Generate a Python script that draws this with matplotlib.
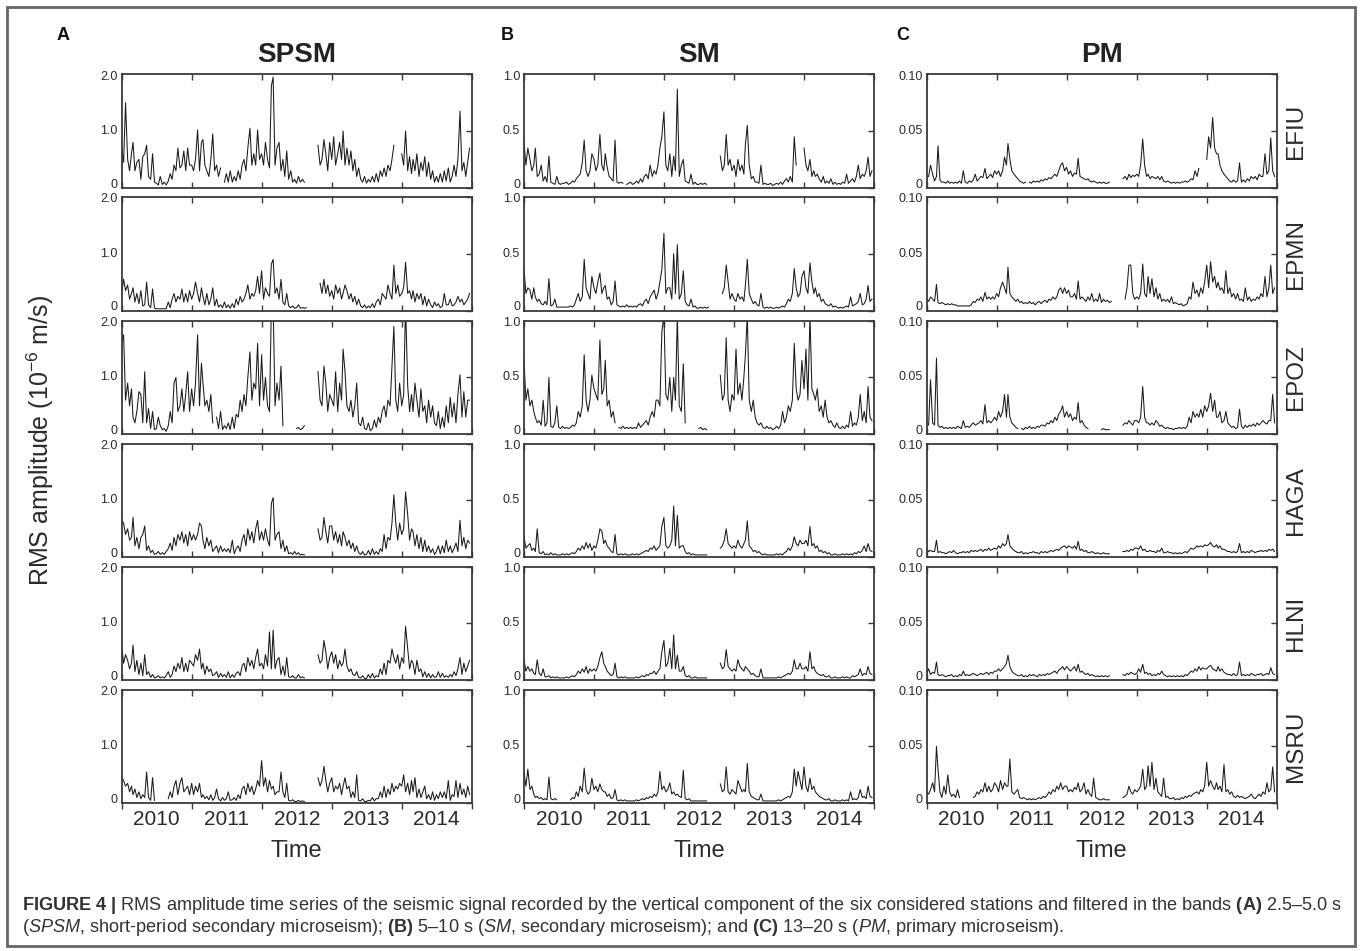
import numpy as np
import pandas as pd
import matplotlib
matplotlib.use("Agg")
import matplotlib.pyplot as plt
import matplotlib.dates as mdates
import matplotlib.transforms as mtransforms
from matplotlib.patches import Rectangle

nan = float("nan")

# ---------------- data (3 samples per month: days 1, 11, 21) ----------------
years = [2010, 2011, 2012, 2013, 2014]
sample_days = [1, 11, 21]
dates = pd.to_datetime([f"{y}-{m:02d}-{d:02d}" for y in years for m in range(1, 13) for d in sample_days])

stations = ["EFIU", "EPMN", "EPOZ", "HAGA", "HLNI", "MSRU"]
bands = ["SPSM", "SM", "PM"]
panel_letters = ["A", "B", "C"]
band_ymax = [2.0, 1.0, 0.10]
band_yticks = [[0, 1.0, 2.0], [0, 0.5, 1.0], [0, 0.05, 0.10]]
band_yticklabels = [["0", "1.0", "2.0"], ["0", "0.5", "1.0"], ["0", "0.05", "0.10"]]
year_labels = ["2010", "2011", "2012", "2013", "2014"]

# ---- SPSM (2.5-5 s) ----
spsm_efiu = [
 .7,.45,1.5, .5,.3,.6, .8,.3,.45, .5,.15,.55, .6,.75,.2, .15,.6,.1, .08,.05,.2, .06,.1,.05, .12,.25,.15, .4,.3,.7, .35,.4,.65, .3,.7,.4,
 .4,.3,.5, 1.02,.3,.8, .85,.4,.3, .2,.5,.95, .3,.4,.2, .35,nan,.1, .25,.1,.3, .1,.2,.12, .3,.15,.4, .5,.3,.7, 1.05,.4,.6, .4,1.02,.5,
 .6,.4,.8, .5,.35,1.8, 1.95,.4,.7, .8,.3,.5, .2,.65,.15, .3,.1,.15, .08,.2,.1, .15,.1,nan, nan,nan,nan, nan,nan,.75, .4,.5,.85, .6,.3,.8,
 .5,.9,.4, .6,.8,.5, 1.0,.4,.7, .4,.65,.3, .5,.2,.35, .15,.1,.2, .08,.15,.1, .2,.1,.25, .1,.3,.2, .35,.2,.4, .3,.5,.75, nan,nan,nan,
 .6,.4,1.0, .3,.55,.25, .5,.3,.6, .2,.45,.3, .55,.2,.45, .15,.3,.1, .2,.1,.25, .1,.3,.12, .35,.1,.2, .4,.2,.5, 1.35,.3,.45, .2,.45,.7,
]
spsm_epmn = [
 .3,.55,.35, .45,.2,.3, .4,.15,.3, .12,.35,.08, .1,.5,.1, .05,.38,.04, .03,.03,.03, .03,.03,.03, .15,.05,.2, .3,.15,.25, .2,.38,.15, .3,.15,.35,
 .2,.3,.5, .3,.15,.4, .25,.1,.3, .1,.2,.4, .08,.2,.06, .1,.05,.15, .05,.1,.04, .12,.05,.2, .1,.25,.15, .2,.3,.45, .2,.3,.25, .35,.6,.3,
 .7,.2,.4, .3,.25,.82, .9,.3,.4, .2,.55,.15, .1,.3,.08, .05,.08,.04, .05,.1,.04, .05,.04,.05, nan,nan,nan, nan,nan,nan, .48,.3,.55, .3,.45,.25,
 .35,.2,.45, .3,.4,.2, .3,.45,.35, .2,.3,.15, .25,.1,.2, .08,.05,.1, .04,.08,.05, .12,.05,.15, .2,.1,.3, .25,.2,.45, .3,.2,.8, .3,.45,.25,
 .3,.4,.85, .3,.35,.2, .35,.15,.3, .2,.3,.1, .25,.08,.2, .1,.05,.15, .08,.12,.05, .08,.3,.1, .1,.2,.08, .1,.15,.25, .15,.2,.1, .15,.2,.3,
]
spsm_epoz = [
 1.6,1.75,.6, .9,.5,.8, .3,.2,.4, .75,.7,.2, 1.1,.2,.45, .1,.4,.08, .1,.3,.15, .08,.1,.05, .15,.4,.2, .9,1.0,.4, .5,.8,.4, .7,1.1,.4,
 .8,.5,.9, 1.75,.5,1.25, .9,.5,.6, .4,.7,.2, nan,.3,.1, .4,.08,.15, .1,.2,.08, .3,.1,.35, .3,.6,.4, .7,.5,1.0, 1.45,.6,.9, .8,1.6,.5,
 1.4,.6,1.0, .5,.4,2.3, 2.3,.5,.9, .6,1.2,.15, nan,nan,nan, nan,nan,nan, .1,.12,.08, .1,.15,nan, nan,nan,nan, nan,nan,1.1, .6,.5,1.2, .9,.4,.7,
 .6,.5,1.1, .4,.9,.6, 1.5,1.1,.5, .4,.6,.3, .5,.9,.2, .15,.3,.1, .08,.2,.06, .1,.25,.12, .3,.2,.4, .5,.3,.6, .5,1.2,1.9, .6,.4,.9,
 .5,.7,2.3, .85,.4,.7, .4,.9,.6, .3,.8,.4, .5,.2,.6, .3,.5,.2, .15,.4,.1, .3,.12,.5, .2,.65,.3, .55,.2,.7, 1.05,.3,.75, .3,.6,.6,
]
spsm_haga = [
 .65,.6,.4, .5,.3,.35, .7,.2,.35, .15,.35,.4, .55,.12,.2, .08,.12,.05, .06,.1,.05, .08,.05,.1, .15,.25,.12, .35,.2,.4, .3,.45,.25, .4,.2,.45,
 .3,.4,.3, .4,.6,.55, .3,.15,.35, .2,.3,.1, .15,.2,.08, .2,.1,.15, .1,.15,.08, .3,.06,.15, .2,.1,.3, .4,.2,.5, .3,.45,.25, .5,.65,.3,
 .45,.3,.5, .3,.2,.95, 1.05,.3,.4, .45,.15,.3, .1,.2,.06, .08,.05,.1, .05,.08,.04, .05,.04,nan, nan,nan,nan, nan,nan,.5, .3,.35,.7, .45,.25,.55,
 .55,.3,.45, .25,.4,.2, .45,.35,.2, .3,.15,.25, .1,.2,.08, .05,.1,.04, .05,.12,.04, .15,.05,.1, .05,.15,.1, .4,.15,.35, .3,.6,1.1, .6,.3,.6,
 .4,.5,1.15, .75,.3,.5, .45,.2,.4, .15,.35,.1, .3,.1,.2, .08,.15,.05, .1,.2,.06, .2,.08,.3, .1,.2,.08, .15,.25,.1, .65,.2,.35, .15,.3,.25,
]
spsm_hlni = [
 .6,.3,.45, .35,.2,.3, .62,.15,.35, .1,.3,.08, .45,.1,.15, .05,.1,.04, .05,.08,.04, .06,.04,.08, .15,.05,.1, .25,.15,.3, .2,.4,.15, .3,.15,.35,
 .3,.25,.45, .35,.55,.2, .3,.1,.25, .15,.2,.08, .1,.15,.05, .12,.06,.1, .05,.15,.04, .1,.05,.12, .15,.08,.25, .3,.15,.4, .25,.35,.2, .4,.55,.25,
 .3,.2,.45, .25,.85,.2, .88,.2,.35, .4,.1,.25, .08,.4,.06, .05,.08,.04, .04,.1,.04, .06,.04,nan, nan,nan,nan, nan,nan,.45, .3,.35,.7, .5,.2,.4,
 .5,.3,.45, .2,.35,.25, .3,.55,.25, .15,.2,.1, .08,.15,.05, .04,.08,.03, .03,.1,.04, .12,.04,.08, .06,.2,.1, .3,.1,.35, .3,.55,.4, .3,.45,.2,
 .4,.3,.95, .55,.2,.35, .3,.1,.35, .15,.2,.06, .15,.05,.12, .04,.1,.05, .06,.15,.05, .12,.05,.08, .05,.1,.06, .15,.08,.2, .4,.1,.3, .15,.25,.35,
]
spsm_msru = [
 .45,.4,.3, .35,.2,.3, .15,.25,.1, .2,.08,.15, .1,.55,.1, .05,.45,.05, nan,nan,nan, nan,nan,nan, .08,.2,.1, .3,.4,.15, .35,.45,.2, .25,.3,.15,
 .35,.15,.3, .2,.35,.1, .15,.08,.12, .06,.15,.05, .1,.25,.08, .04,.1,.05, .08,.2,.05, .06,.1,.05, .15,.08,.25, .3,.15,.35, .2,.3,.15, .25,.4,.3,
 .75,.3,.45, .2,.4,.25, .3,.15,.2, .2,.55,.2, .1,.35,.05, .04,.06,.03, .03,.05,.03, .04,.03,nan, nan,nan,nan, nan,nan,.45, .3,.4,.65, .4,.2,.35,
 .45,.2,.3, .25,.35,.15, .3,.45,.25, .3,.1,.2, .1,.5,.05, .04,.08,.03, .03,.05,.04, .1,.04,.08, .08,.2,.1, .3,.1,.25, .15,.35,.2, .3,.25,.35,
 .3,.5,.2, .35,.15,.4, .2,.45,.1, .25,.1,.2, .3,.08,.15, .06,.2,.05, .15,.08,.2, .1,.2,.08, .4,.05,.15, .12,.4,.1, .35,.15,.25, .1,.3,.15,
]

# ---- SM (5-10 s) ----
sm_efiu = [
 .4,.2,.35, .25,.15,.2, .35,.1,.12, .2,.06,.1, .05,.28,.05, .04,.03,.1, .04,.03,.04, .04,.05,.03, .04,.06,.05, .08,.1,.12, .22,.42,.15, .1,.15,.3,
 .25,.15,.2, .47,.2,.15, .3,.18,.1, .08,.06,.42, .05,.04,.05, .04,nan,.03, .04,.05,.03, .04,.06,.04, .08,.05,.1, .12,.08,.2, .1,.15,.12, .2,.35,.45,
 .67,.2,.15, .3,.1,.28, .15,.87,.1, .2,.25,.06, .05,.04,.12, .03,.05,.03, .03,.04,.03, .04,.03,nan, nan,nan,nan, nan,nan,.28, .15,.2,.47, .2,.25,.15,
 .2,.1,.25, .15,.2,.12, .38,.55,.2, .08,.1,.05, .05,.04,.2, .03,.04,.03, .03,.04,.02, .03,.04,.03, .05,.03,.06, .08,.05,.1, .05,.45,.2, nan,nan,nan,
 .35,.2,.15, .25,.1,.15, .1,.12,.08, .05,.1,.04, .06,.04,.08, .03,.05,.03, .04,.03,.05, .04,.12,.04, .06,.08,.05, .1,.2,.08, .12,.1,.15, .27,.1,.15,
]
sm_epmn = [
 .37,.15,.2, .18,.1,.2, .12,.08,.1, .06,.05,.08, .05,.28,.04, .05,.1,.03, .03,.03,.03, .03,.03,.03, .04,.03,.05, .1,.15,.08, .12,.45,.2, .15,.1,.3,
 .2,.15,.25, .33,.15,.2, .22,.1,.12, .05,.08,.26, .05,.04,.03, .04,.03,.05, .03,.04,.03, .04,.03,.05, .06,.04,.08, .1,.06,.12, .15,.18,.1, .15,.25,.36,
 .68,.15,.2, .2,.1,.5, .15,.58,.1, .15,.35,.08, .05,.04,.1, .03,.04,.02, .02,.03,.02, .03,.02,.03, nan,nan,nan, nan,nan,nan, .15,.2,.4, .25,.1,.15,
 .1,.08,.15, .1,.12,.08, .22,.45,.15, .1,.06,.08, .05,.04,.15, .03,.02,.03, .02,.03,.02, .02,.03,.02, .03,.04,.03, .06,.1,.08, .15,.37,.2, .12,.15,.3,
 .35,.2,.15, .42,.25,.15, .2,.12,.15, .08,.1,.06, .05,.04,.06, .03,.04,.03, .02,.03,.02, .03,.04,.03, .12,.04,.05, .06,.08,.15, .05,.06,.1, .22,.08,.1,
]
sm_epoz = [
 .65,.3,.4, .25,.3,.2, .15,.1,.12, .08,.3,.07, .1,.5,.07, .06,.1,.25, .06,.05,.07, .05,.06,.05, .06,.08,.07, .1,.2,.15, .25,.7,.3, .2,.3,.52,
 .4,.35,.3, .83,.35,.4, .65,.25,.3, .15,.2,.1, nan,.06,.05, .07,.05,.06, .05,.06,.05, .06,.05,.1, .06,.08,.1, .12,.08,.15, .2,.15,.3, .3,.25,.9,
 1.05,.35,.3, .5,.2,.5, .3,1.05,.25, .2,.62,.1, nan,nan,nan, nan,nan,nan, .05,.06,.04, .05,.04,nan, nan,nan,nan, nan,nan,.52, .3,.35,.85, .3,.2,.35,
 .3,.75,.35, .45,.3,.5, .7,1.05,.3, .2,.3,.15, .1,.08,.1, .06,.05,.07, .05,.06,.04, .05,.07,.05, .08,.2,.1, .15,.25,.2, .3,.8,.4, .3,.35,.65,
 .4,.75,.3, 1.05,.4,.35, .3,.4,.2, .25,.15,.3, .15,.1,.12, .08,.06,.1, .06,.05,.07, .05,.08,.06, .2,.07,.1, .08,.15,.35, .12,.2,.1, .42,.15,.12,
]
sm_haga = [
 .18,.08,.1, .12,.06,.08, .05,.25,.04, .03,.05,.02, .03,.02,.04, .02,.03,.02, .02,.02,.03, .02,.03,.02, .03,.04,.03, .05,.08,.06, .1,.07,.13, .08,.12,.06,
 .1,.08,.15, .25,.23,.12, .15,.1,.08, .05,.04,.2, .03,.02,.03, .02,.03,.02, .02,.02,.03, .02,.03,.02, .03,.04,.05, .06,.05,.08, .07,.1,.06, .08,.1,.27,
 .35,.1,.08, .1,.15,.45, .1,.37,.08, .1,.1,.05, .03,.04,.02, .03,.02,.02, .02,.02,.02, .02,.02,nan, nan,nan,nan, nan,nan,.08, .1,.15,.25, .12,.1,.08,
 .1,.08,.15, .1,.08,.12, .15,.32,.1, .08,.05,.06, .04,.05,.03, .02,.03,.02, .02,.02,.02, .02,.03,.02, .03,.02,.04, .05,.08,.06, .1,.18,.12, .1,.15,.12,
 .12,.15,.1, .27,.1,.12, .08,.1,.05, .06,.04,.05, .03,.04,.02, .02,.03,.02, .02,.02,.03, .02,.03,.02, .03,.02,.04, .03,.05,.04, .06,.1,.05, .12,.06,.05,
]
sm_hlni = [
 .18,.08,.12, .08,.1,.06, .05,.18,.06, .04,.1,.03, .03,.04,.02, .03,.02,.03, .02,.02,.02, .02,.03,.02, .03,.04,.03, .05,.08,.06, .1,.07,.12, .06,.1,.08,
 .1,.08,.12, .2,.25,.15, .12,.08,.06, .04,.05,.15, .03,.02,.03, .02,.03,.02, .02,.02,.02, .02,.03,.02, .03,.04,.03, .05,.04,.06, .06,.08,.05, .08,.1,.25,
 .35,.12,.15, .28,.1,.4, .1,.22,.08, .08,.12,.04, .03,.04,.02, .02,.03,.02, .02,.02,.02, .02,.02,nan, nan,nan,nan, nan,nan,.15, .1,.12,.27, .12,.1,.08,
 .1,.08,.18, .12,.1,.08, .12,.1,.08, .05,.06,.04, .03,.03,.1, .02,.02,.02, .02,.02,.02, .02,.02,.03, .02,.03,.04, .05,.06,.05, .08,.18,.1, .1,.15,.1,
 .1,.12,.08, .25,.1,.12, .08,.06,.05, .04,.05,.03, .03,.04,.02, .02,.03,.02, .02,.02,.03, .02,.03,.02, .02,.04,.03, .04,.05,.1, .04,.06,.05, .12,.06,.05,
]
sm_msru = [
 .27,.15,.3, .12,.15,.08, .05,.06,.04, .05,.03,.04, .03,.23,.04, .03,.04,.03, nan,nan,nan, nan,nan,nan, .03,.05,.04, .1,.06,.15, .1,.31,.12, .08,.1,.22,
 .12,.15,.1, .17,.12,.1, .1,.06,.08, .04,.05,.12, .03,.02,.03, .02,.03,.02, .02,.02,.02, .02,.03,.02, .03,.04,.03, .05,.04,.06, .05,.08,.06, .1,.28,.12,
 .15,.1,.12, .18,.08,.1, .07,.08,.06, .05,.29,.04, .03,.04,.02, .02,.02,.02, .02,.02,.02, .02,.02,nan, nan,nan,nan, nan,nan,.17, .1,.12,.32, .1,.08,.12,
 .1,.08,.2, .15,.1,.12, .1,.35,.1, .06,.05,.04, .03,.03,.08, .02,.02,.02, .02,.02,.02, .02,.02,.03, .02,.03,.04, .05,.06,.05, .1,.3,.15, .28,.2,.12,
 .32,.15,.1, .22,.12,.15, .1,.08,.06, .05,.04,.03, .03,.04,.02, .02,.03,.02, .02,.02,.03, .02,.03,.02, .1,.03,.04, .03,.05,.12, .05,.06,.04, .15,.06,.05,
]

# ---- PM (13-20 s) ----
pm_efiu = [
 .01,.01,.02, .012,.006,.01, .037,.007,.005, .005,.004,.006, .004,.005,.004, .005,.004,.006, .004,.015,.005, .004,.006,.005, .007,.012,.006, .008,.01,.009, .017,.008,.01, .012,.009,.015,
 .012,.015,.01, .015,.027,.02, .039,.025,.015, .012,.01,.008, .006,.005,.004, .005,nan,.005, .004,.006,.005, .006,.005,.007, .006,.008,.007, .009,.008,.01, .012,.01,.015, .02,.022,.015,
 .018,.012,.015, .01,.013,.012, .026,.01,.009, .008,.007,.008, .006,.005,.006, .005,.004,.005, .004,.005,.004, .004,.005,nan, nan,nan,nan, nan,nan,.008, .01,.007,.012, .009,.011,.01,
 .012,.01,.02, .043,.02,.01, .012,.008,.01, .009,.008,.01, .007,.01,.006, .005,.006,.005, .004,.005,.004, .005,.004,.005, .005,.006,.005, .006,.008,.007, .015,.01,.017, nan,nan,nan,
 .025,.045,.035, .062,.035,.03, .03,.02,.015, .012,.01,.008, .006,.005,.007, .005,.006,.022, .005,.007,.005, .008,.006,.01, .008,.01,.007, .012,.01,.01, .03,.012,.015, .044,.015,.01,
]
pm_epmn = [
 .01,.008,.012, .01,.008,.023, .007,.006,.007, .006,.005,.006, .005,.006,.005, .005,.004,.004, .004,.004,.004, .004,.004,.005, .008,.007,.01, .009,.012,.008, .016,.01,.012, .01,.012,.01,
 .015,.012,.02, .025,.02,.015, .038,.015,.012, .01,.008,.01, .007,.008,.006, .007,.006,.008, .006,.007,.005, .007,.008,.006, .008,.009,.007, .01,.009,.012, .01,.012,.018, .02,.015,.02,
 .015,.018,.012, .012,.015,.01, .026,.01,.012, .01,.008,.012, .009,.015,.008, .01,.008,.015, .007,.01,.008, .009,.007,.008, nan,nan,nan, nan,nan,nan, .01,.02,.04, .04,.015,.01,
 .012,.01,.015, .041,.015,.012, .03,.015,.028, .012,.02,.01, .015,.008,.01, .008,.01,.007, .012,.006,.007, .006,.005,.006, .004,.005,.006, .012,.01,.025, .015,.018,.012, .02,.015,.025,
 .04,.02,.043, .025,.03,.02, .025,.018,.02, .015,.035,.015, .02,.012,.015, .01,.015,.009, .01,.008,.02, .009,.012,.008, .01,.009,.012, .01,.015,.012, .03,.012,.02, .04,.015,.02,
]
pm_epoz = [
 .01,.008,.048, .01,.008,.067, .008,.006,.007, .005,.006,.005, .006,.005,.006, .005,.007,.006, .005,.012,.006, .007,.006,.008, .01,.008,.009, .01,.012,.009, .026,.01,.012, .01,.012,.015,
 .012,.02,.015, .02,.035,.015, .035,.015,.01, .008,.006,.005, nan,.005,.004, .006,.005,.007, .005,.006,.005, .007,.006,.008, .008,.007,.01, .009,.012,.01, .015,.012,.018, .02,.025,.015,
 .02,.015,.018, .012,.015,.013, .028,.01,.012, .008,.006,.005, nan,nan,nan, nan,nan,nan, .004,.005,.004, .004,.004,nan, nan,nan,nan, nan,nan,.008, .01,.009,.012, .01,.008,.012,
 .012,.01,.015, .042,.015,.01, .01,.008,.01, .008,.012,.01, .007,.008,.006, .005,.006,.005, .005,.004,.005, .005,.006,.005, .006,.005,.007, .015,.01,.02, .015,.018,.015, .022,.015,.025,
 .02,.025,.036, .02,.03,.015, .015,.02,.01, .012,.02,.01, .008,.006,.007, .005,.006,.022, .007,.005,.008, .006,.008,.007, .009,.007,.01, .008,.01,.012, .01,.009,.012, .012,.035,.01,
]
pm_haga = [
 .008,.005,.006, .005,.005,.015, .004,.005,.004, .004,.003,.004, .005,.004,.006, .004,.003,.004, .004,.005,.004, .005,.004,.006, .005,.006,.005, .006,.007,.005, .007,.006,.008, .006,.007,.008,
 .007,.01,.008, .012,.01,.012, .02,.01,.008, .006,.005,.004, .004,.005,.003, .004,.003,.004, .004,.005,.004, .004,.003,.005, .004,.005,.004, .005,.006,.005, .006,.007,.006, .008,.009,.01,
 .008,.01,.009, .008,.01,.007, .014,.006,.007, .005,.006,.004, .004,.005,.004, .003,.004,.003, .003,.004,.003, .003,.003,nan, nan,nan,nan, nan,nan,.005, .005,.006,.005, .007,.006,.008,
 .008,.007,.01, .006,.007,.005, .005,.006,.005, .005,.004,.006, .005,.008,.004, .004,.005,.004, .004,.003,.004, .003,.004,.003, .004,.005,.004, .006,.008,.007, .008,.01,.009, .01,.009,.011,
 .01,.011,.013, .01,.009,.011, .008,.01,.007, .007,.006,.005, .005,.004,.005, .004,.005,.012, .004,.005,.004, .005,.004,.006, .005,.004,.005, .005,.006,.005, .006,.005,.007, .006,.007,.005,
]
pm_hlni = [
 .006,.01,.005, .007,.006,.016, .005,.004,.005, .004,.003,.004, .004,.005,.003, .004,.003,.005, .004,.008,.004, .005,.004,.005, .006,.005,.004, .005,.006,.005, .006,.007,.005, .007,.006,.008,
 .008,.01,.008, .01,.012,.015, .022,.012,.008, .006,.005,.004, .004,.005,.003, .004,.003,.005, .004,.005,.004, .003,.005,.004, .005,.004,.006, .005,.006,.007, .008,.006,.009, .01,.012,.009,
 .012,.01,.008, .01,.012,.008, .014,.007,.008, .006,.005,.006, .004,.005,.004, .003,.004,.003, .004,.003,.004, .003,.004,nan, nan,nan,nan, nan,nan,.005, .004,.006,.005, .007,.006,.005,
 .006,.01,.007, .014,.006,.007, .005,.006,.004, .005,.004,.006, .005,.008,.005, .004,.003,.004, .003,.004,.003, .004,.003,.004, .003,.005,.004, .006,.008,.007, .01,.008,.012, .009,.011,.01,
 .01,.012,.013, .01,.009,.008, .012,.008,.01, .007,.006,.005, .005,.004,.006, .004,.005,.016, .004,.005,.004, .005,.004,.006, .005,.004,.005, .005,.006,.004, .005,.006,.005, .011,.006,.005,
]
pm_msru = [
 .01,.008,.012, .018,.01,.05, .03,.01,.005, .015,.008,.025, .01,.006,.008, .005,.012,.005, nan,nan,nan, nan,nan,nan, .005,.006,.01, .008,.012,.01, .018,.01,.015, .01,.012,.018,
 .015,.01,.02, .012,.018,.015, .015,.039,.01, .008,.01,.012, .005,.004,.005, .004,.003,.004, .003,.004,.003, .004,.005,.004, .006,.005,.007, .01,.008,.012, .01,.015,.012, .018,.012,.015,
 .015,.01,.012, .01,.014,.012, .018,.01,.012, .018,.008,.012, .008,.006,.022, .005,.004,.003, .003,.004,.003, .003,.003,nan, nan,nan,nan, nan,nan,.005, .006,.008,.015, .01,.008,.012,
 .01,.012,.015, .03,.012,.015, .033,.015,.036, .012,.022,.01, .008,.006,.022, .005,.006,.004, .004,.005,.003, .004,.003,.005, .004,.006,.005, .007,.006,.008, .009,.01,.008, .012,.01,.015,
 .036,.015,.02, .015,.012,.018, .012,.015,.01, .034,.01,.012, .008,.01,.006, .005,.007,.005, .006,.005,.004, .005,.006,.008, .005,.004,.006, .008,.006,.01, .008,.018,.01, .012,.032,.01,
]

series = [
    [spsm_efiu, sm_efiu, pm_efiu],
    [spsm_epmn, sm_epmn, pm_epmn],
    [spsm_epoz, sm_epoz, pm_epoz],
    [spsm_haga, sm_haga, pm_haga],
    [spsm_hlni, sm_hlni, pm_hlni],
    [spsm_msru, sm_msru, pm_msru],
]
for r, row in enumerate(series):
    for c, s in enumerate(row):
        if len(s) != len(dates):
            raise ValueError(f"{stations[r]} {bands[c]} has {len(s)} values")

# ---------------- style ----------------
plt.rcParams["font.family"] = ["Liberation Sans", "DejaVu Sans"]
plt.rcParams["mathtext.fontset"] = "custom"
plt.rcParams["mathtext.rm"] = "Liberation Sans"
plt.rcParams["mathtext.it"] = "Liberation Sans:italic"
plt.rcParams["mathtext.bf"] = "Liberation Sans:bold"

W, H = 1360, 951
fig = plt.figure(figsize=(W / 100, H / 100), dpi=100)
fig.patch.set_facecolor("white")

col_left = [121.7, 524.0, 926.7]
col_w = 350.0
row_top = [74.3, 197.0, 320.7, 443.7, 566.7, 689.7]
row_h = 113.5

spine_col = "#3a3a3a"
text_col = "#2b2b2b"
line_col = "#1a1a1a"

x0 = pd.Timestamp("2010-01-01")
x1 = pd.Timestamp("2015-01-01")
year_starts = [pd.Timestamp(f"{y}-01-01") for y in years + [2015]]
mid_years = [pd.Timestamp(f"{y}-07-02") for y in years]

for r in range(6):
    for c in range(3):
        l = col_left[c]
        t = row_top[r]
        ax = fig.add_axes([l / W, 1 - (t + row_h) / H, col_w / W, row_h / H])
        ax.plot(dates, series[r][c], color=line_col, lw=0.75)
        ax.set_xlim(x0, x1)
        ax.set_ylim(0, band_ymax[c])
        for sp in ax.spines.values():
            sp.set_color(spine_col)
            sp.set_linewidth(1.3)
        ax.set_yticks(band_yticks[c])
        ax.tick_params(axis="y", left=False, right=True, direction="in", length=4,
                       width=1.0, color=spine_col, labelleft=False, labelright=False)
        # y tick labels drawn as text so the end labels can hug the spines
        ylab_trans = mtransforms.blended_transform_factory(ax.transAxes, ax.transData)
        for k, (v, lab) in enumerate(zip(band_yticks[c], band_yticklabels[c])):
            dy = 3.0 if k == 0 else (-2.5 if k == len(band_yticks[c]) - 1 else 0)
            tr = mtransforms.offset_copy(ylab_trans, fig=fig, x=-4, y=dy, units="dots")
            ax.text(0, v, lab, transform=tr, ha="right", va="center",
                    fontsize=9, color=text_col)
        ax.set_xticks(year_starts)
        ax.set_xticklabels([])
        ax.set_xticks(mid_years, minor=True)
        if r < 5:
            ax.tick_params(axis="x", which="major", direction="in", top=True, bottom=True,
                           length=4.5, width=1.0, color=spine_col)
            ax.tick_params(axis="x", which="minor", length=0, labelbottom=False)
        else:
            ax.tick_params(axis="x", which="major", direction="out", top=False, bottom=True,
                           length=4.5, width=1.0, color=spine_col)
            ax.set_xticklabels(year_labels, minor=True)
            ax.tick_params(axis="x", which="minor", length=0, labelsize=15,
                           labelcolor=text_col, pad=5)
            ax2 = ax.twiny()
            ax2.set_xlim(mdates.date2num(x0), mdates.date2num(x1))
            ax2.set_xticks(mdates.date2num(year_starts))
            ax2.tick_params(axis="x", direction="in", length=4.5, width=1.0,
                            color=spine_col, labeltop=False)
            for sp in ax2.spines.values():
                sp.set_visible(False)
        if r == 0:
            fig.text((l + col_w / 2) / W, 1 - 55 / H, bands[c], ha="center", va="center",
                     fontsize=20, fontweight="bold", color="#222222")
        if c == 2:
            fig.text(1296 / W, 1 - (t + row_h / 2) / H, stations[r], rotation=90,
                     ha="center", va="center", fontsize=17.5, color=text_col)

for c in range(3):
    fig.text((col_left[c] + col_w / 2) / W, 1 - 851 / H, "Time", ha="center", va="center",
             fontsize=17, color=text_col)

letter_x = [63, 507, 903]
for c in range(3):
    fig.text(letter_x[c] / W, 1 - 35 / H, panel_letters[c], ha="center", va="center",
             fontsize=13, fontweight="bold", color="#111111")

fig.text(40 / W, 1 - 441 / H, r"RMS amplitude (10$^{-6}$ m/s)", rotation=90,
         ha="center", va="center", fontsize=18, color=text_col)

# caption
cap1 = (r"$\mathbf{FIGURE\ 4\ |}$ RMS amplitude time series of the seismic signal recorded by the "
        r"vertical component of the six considered stations and filtered in the bands "
        r"$\mathbf{(A)}$ 2.5–5.0 s")
cap2 = (r"($\mathit{SPSM}$, short-period secondary microseism); $\mathbf{(B)}$ 5–10 s "
        r"($\mathit{SM}$, secondary microseism); and $\mathbf{(C)}$ 13–20 s "
        r"($\mathit{PM}$, primary microseism).")
t1 = fig.text(22 / W, 1 - 905 / H, cap1, ha="left", va="center", fontsize=10, color="#333333")
t2 = fig.text(22 / W, 1 - 927 / H, cap2, ha="left", va="center", fontsize=10, color="#333333")
renderer = fig.canvas.get_renderer()
w1 = t1.get_window_extent(renderer=renderer).width
if w1 > 0:
    fs = 10 * (1345 - 22) / w1
    t1.set_fontsize(fs)
    t2.set_fontsize(fs)

# figure border
fig.add_artist(Rectangle((7 / W, 1 - 946 / H), (1355 - 7) / W, (946 - 7) / H,
                         transform=fig.transFigure, fill=False, ec="#666666", lw=2))

fig.savefig("out.png", dpi=100)
